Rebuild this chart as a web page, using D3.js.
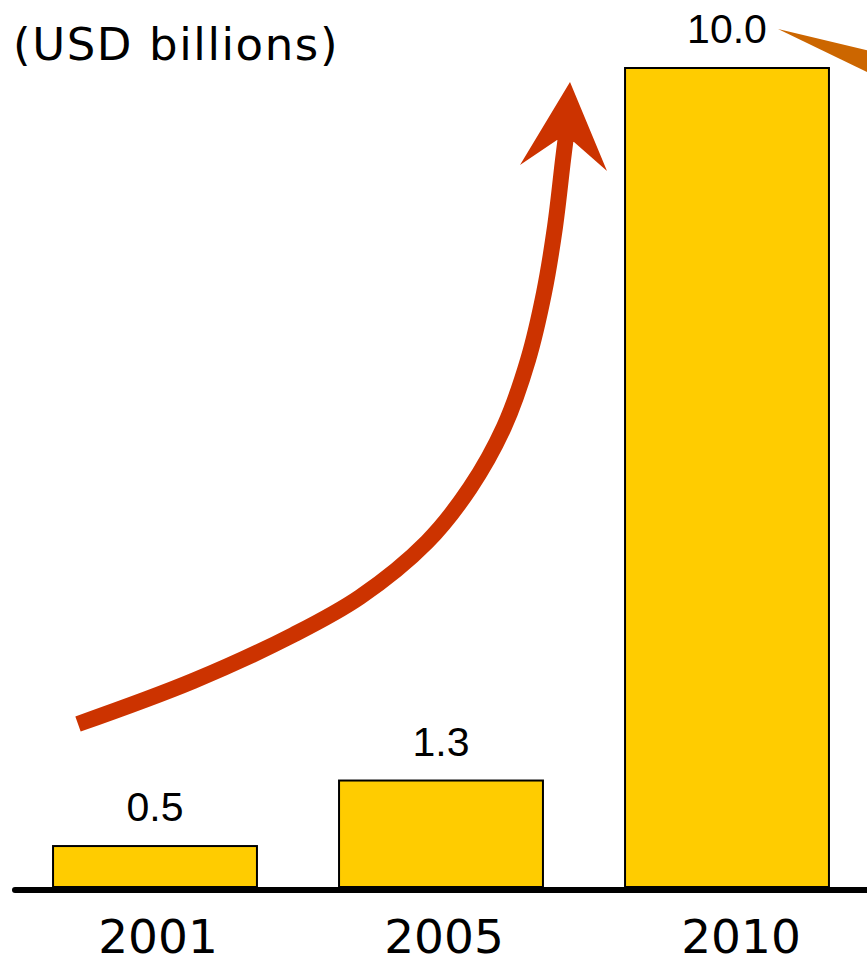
<!DOCTYPE html>
<html>
<head>
<meta charset="utf-8">
<script src="https://cdn.jsdelivr.net/npm/d3@7"></script>
<style>
  html, body { margin: 0; padding: 0; background: #fff; }
  svg { display: block; }
</style>
</head>
<body>
<svg id="chart" width="867" height="959"></svg>
<script>
// Annual value, USD billions
const years = ["2001", "2005", "2010"];
const values = [0.5, 1.3, 10.0];
const valueLabels = ["0.5", "1.3", "10.0"];
const unitLabel = "(USD billions)";

const W = 867, H = 959;
const svg = d3.select("#chart");

const baseY = 887;
const x = d3.scaleBand()
  .domain(years)
  .range([12, 870])
  .paddingInner(0.287)
  .paddingOuter(0.1435);

const y = d3.scaleLinear()
  .domain([0, 10])
  .range([baseY, 68]);

// Growth arrow (drawn behind the bars)
const curvePts = [
  [78, 724], [193, 681], [293, 635], [360, 597], [427, 542],
  [470, 488], [504, 427], [528, 360], [544, 293], [555, 227],
  [563, 160], [566, 136]
];
svg.append("path")
  .attr("d", d3.line().curve(d3.curveCatmullRom.alpha(0.5))(curvePts))
  .attr("fill", "none")
  .attr("stroke", "#CC3300")
  .attr("stroke-width", 16)
  .attr("stroke-linecap", "butt");

svg.append("path")
  .attr("d", "M570,82 L607,171 L574,142 L557,140 L520,165 Z")
  .attr("fill", "#CC3300");

// Bars
svg.append("g").selectAll("rect")
  .data(years)
  .join("rect")
  .attr("x", d => x(d))
  .attr("width", x.bandwidth())
  .attr("y", (d, i) => y(values[i]))
  .attr("height", (d, i) => baseY - y(values[i]))
  .attr("fill", "#FFCC00")
  .attr("stroke", "#000")
  .attr("stroke-width", 2);

// Value labels above bars
svg.append("g").selectAll("text")
  .data(years)
  .join("text")
  .attr("x", d => x(d) + x.bandwidth() / 2)
  .attr("y", (d, i) => y(values[i]) - 25)
  .attr("text-anchor", "middle")
  .attr("font-family", "'Liberation Sans', Arial, sans-serif")
  .attr("font-size", 41)
  .attr("fill", "#000")
  .text((d, i) => valueLabels[i]);

// Baseline
svg.append("line")
  .attr("x1", 15).attr("x2", W + 10)
  .attr("y1", baseY + 3).attr("y2", baseY + 3)
  .attr("stroke", "#000")
  .attr("stroke-width", 6)
  .attr("stroke-linecap", "round");

// Category labels
svg.append("g").selectAll("text")
  .data(years)
  .join("text")
  .attr("x", (d, i) => x(d) + x.bandwidth() / 2 + (i === years.length - 1 ? 14 : 3))
  .attr("y", 953)
  .attr("text-anchor", "middle")
  .attr("font-family", "'DejaVu Sans', Verdana, sans-serif")
  .attr("font-size", 47)
  .attr("fill", "#000")
  .text(d => d);

// Unit caption
svg.append("text")
  .attr("x", 13)
  .attr("y", 60)
  .attr("font-family", "'DejaVu Sans', Verdana, sans-serif")
  .attr("font-size", 45)
  .attr("letter-spacing", 1.6)
  .attr("fill", "#000")
  .text(unitLabel);

// Pointer wedge toward the right margin
svg.append("path")
  .attr("d", "M778,29 L900,58 L900,88 Z")
  .attr("fill", "#CC6600");
</script>
</body>
</html>
